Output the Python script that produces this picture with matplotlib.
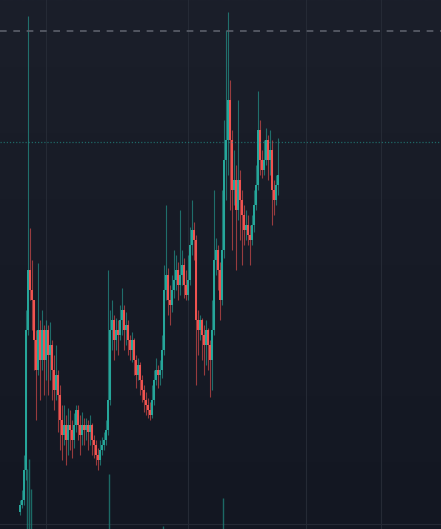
import numpy as np
import matplotlib
matplotlib.use("Agg")
import matplotlib.pyplot as plt
from matplotlib.colors import LinearSegmentedColormap

# OHLC series (arbitrary price units)
opens = [17, 24, 29, 59, 199, 259, 239, 229, 189, 159,
         199, 169, 199, 169, 199, 174, 184, 159, 139, 154,
         134, 109, 94, 104, 89, 104, 99, 89, 104, 119,
         104, 94, 104, 99, 104, 97, 104, 89, 84, 74,
         69, 79, 84, 89, 99, 129, 199, 209, 189, 199,
         194, 209, 219, 199, 204, 189, 179, 189, 169, 154,
         164, 149, 139, 129, 124, 119, 114, 129, 149, 159,
         154, 159, 179, 239, 254, 229, 224, 239, 249, 259,
         244, 254, 264, 244, 234, 249, 284, 299, 289, 209,
         199, 209, 194, 184, 199, 184, 169, 199, 269, 279,
         259, 229, 279, 369, 389, 429, 389, 339, 349, 319,
         349, 329, 314, 299, 304, 294, 289, 304, 324, 344,
         399, 369, 359, 369, 389, 369, 379, 339, 329, 344]
highs = [29, 39, 74, 219, 513, 301, 269, 229, 199, 266,
         209, 219, 204, 209, 204, 207, 189, 174, 184, 159,
         144, 124, 124, 114, 121, 119, 109, 116, 124, 124,
         114, 117, 111, 111, 109, 114, 106, 94, 89, 81,
         89, 92, 97, 109, 259, 219, 229, 214, 211, 209,
         224, 241, 224, 217, 209, 194, 197, 191, 174, 171,
         167, 154, 144, 137, 131, 127, 144, 159, 171, 164,
         169, 194, 264, 324, 261, 244, 254, 279, 274, 267,
         319, 279, 271, 259, 274, 302, 329, 307, 294, 219,
         214, 211, 204, 209, 201, 189, 229, 339, 291, 284,
         267, 339, 409, 499, 517, 449, 399, 379, 364, 429,
         359, 339, 324, 319, 314, 304, 314, 339, 364, 438,
         409, 379, 389, 401, 394, 399, 389, 349, 354, 391]
lows = [14, 21, 24, 49, 194, 229, 199, 159, 109, 154,
        129, 159, 134, 149, 134, 149, 129, 119, 129, 97,
        79, 69, 84, 64, 74, 79, 71, 81, 97, 89,
        74, 84, 84, 89, 79, 84, 74, 71, 64, 59,
        64, 74, 79, 84, 94, 124, 179, 169, 179, 174,
        189, 194, 179, 184, 174, 169, 167, 154, 141, 149,
        134, 127, 117, 114, 111, 109, 111, 124, 144, 141,
        144, 151, 174, 229, 214, 204, 217, 231, 239, 229,
        234, 244, 231, 229, 229, 244, 274, 269, 144, 174,
        189, 169, 154, 164, 159, 132, 139, 194, 254, 239,
        209, 224, 271, 329, 354, 319, 279, 324, 259, 309,
        289, 264, 284, 289, 284, 264, 284, 297, 319, 339,
        354, 351, 354, 364, 349, 354, 304, 314, 324, 334]
closes = [24, 29, 59, 199, 259, 239, 229, 189, 159, 199,
          169, 199, 169, 199, 174, 184, 159, 139, 154, 134,
          109, 94, 104, 89, 104, 99, 89, 104, 119, 104,
          94, 104, 99, 104, 97, 104, 89, 84, 74, 69,
          79, 84, 89, 99, 129, 199, 209, 189, 199, 194,
          209, 219, 199, 204, 189, 179, 189, 169, 154, 164,
          149, 139, 129, 124, 119, 114, 129, 149, 159, 154,
          159, 179, 239, 254, 229, 224, 239, 249, 259, 244,
          254, 264, 244, 234, 249, 284, 299, 289, 209, 199,
          209, 194, 184, 199, 184, 169, 199, 269, 279, 259,
          229, 279, 369, 389, 429, 389, 339, 349, 319, 349,
          329, 314, 299, 304, 294, 289, 304, 324, 344, 399,
          369, 359, 369, 389, 369, 379, 339, 329, 344, 354]

# the few volume bars that show above the bottom edge
vol_idx = [3, 4, 5, 44, 71, 101]
vol_val = [60, 70, 40, 55, 3, 31]

high_line = 498     # dashed grey level
last_line = 387     # dotted teal level

UP, DOWN = "#26a69a", "#ef5350"
BG_TOP, BG_BOT = "#1b1f2a", "#131722"
GRID = "#252a35"

fig = plt.figure(figsize=(4.41, 5.29), dpi=100)
ax = fig.add_axes([0, 0, 1, 1])
ax.set_xlim(-10, 210.5)
ax.set_ylim(0, 529)

cmap = LinearSegmentedColormap.from_list("bg", [BG_BOT, BG_TOP])
grad = np.linspace(0, 1, 256).reshape(-1, 1)
ax.imshow(grad, cmap=cmap, aspect="auto", origin="lower",
          extent=(-10, 210.5, 0, 529), zorder=0)

for gx in [13, 84, 143, 180.5]:
    ax.axvline(gx, color=GRID, lw=0.8, zorder=1)
ax.axhline(5, color=GRID, lw=0.8, zorder=1)

x = np.arange(len(closes))
o, h, l, c = map(np.array, (opens, highs, lows, closes))
up = c >= o
colors = np.where(up, UP, DOWN)

ax.vlines(np.array(vol_idx) + 0.5, 0, vol_val, colors="#1f7f77",
          lw=1.0, alpha=0.8, zorder=2)

ax.vlines(x, l, h, colors=colors, lw=0.8, alpha=0.6, zorder=3)
body_lo = np.minimum(o, c)
body_h = np.maximum(np.abs(c - o), 1.0)
ax.bar(x, body_h, bottom=body_lo, width=1.0, color=colors,
       linewidth=0, antialiased=False, zorder=4)

ax.axhline(high_line, color="#5b606b", lw=1.2, ls=(0, (4, 4)), zorder=5)
ax.axhline(last_line, color=UP, lw=0.9, ls=(0, (1, 1.5)), alpha=0.55, zorder=5)

ax.axis("off")
fig.savefig("out.png", dpi=100, facecolor=BG_BOT)
